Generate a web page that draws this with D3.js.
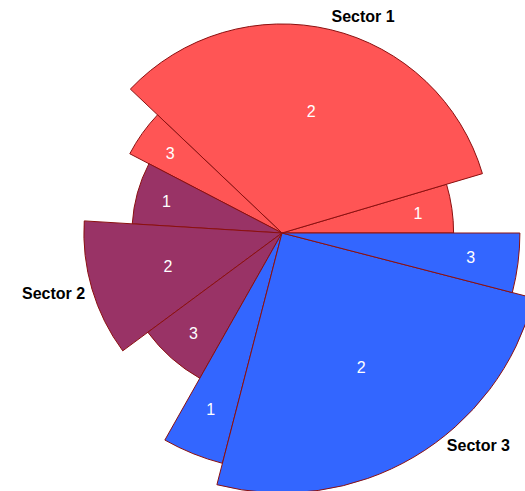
<!DOCTYPE html>
<html>
<head>
<meta charset="utf-8">
<script src="https://cdn.jsdelivr.net/npm/d3@7"></script>
<style>
  html, body { margin: 0; padding: 0; background: #fff; }
  svg { display: block; }
</style>
</head>
<body>
<svg id="chart" width="525" height="491"></svg>
<script>
// ---- data ----
const sectors = ["Sector 1", "Sector 2", "Sector 3"];
const sliceLabels = ["1", "2", "3"];
// angular share of each slice (per sector, in order)
const sector1Values = [16.5, 120, 16];
const sector2Values = [24, 40, 24];
const sector3Values = [15, 90, 14.5];
// radial value of each slice
const sector1Radii = [66, 80.4, 66];
const sector2Radii = [57.7, 76.2, 64.2];
const sector3Radii = [91.5, 100, 91.5];
const sectorColors = ["#ff5555", "#993366", "#3366ff"];

// ---- layout ----
const W = 525, H = 491;
const cx = 282, cy = 233;
const maxR = 260;
const svg = d3.select("#chart");
const g = svg.append("g").attr("transform", `translate(${cx},${cy})`);

const valuesBySector = [sector1Values, sector2Values, sector3Values];
const radiiBySector = [sector1Radii, sector2Radii, sector3Radii];

const rows = [];
sectors.forEach((s, si) => {
  valuesBySector[si].forEach((v, k) => {
    rows.push({ sector: s, si, label: sliceLabels[k], value: v, radius: radiiBySector[si][k] });
  });
});

const rScale = d3.scaleLinear().domain([0, 100]).range([0, maxR]);

// start at 3 o'clock, go counter-clockwise
const pie = d3.pie()
  .sort(null)
  .value(d => d.value)
  .startAngle(Math.PI / 2)
  .endAngle(Math.PI / 2 - 2 * Math.PI);

const arcs = pie(rows);
const arc = d3.arc()
  .innerRadius(0)
  .outerRadius(d => rScale(d.data.radius));

g.selectAll("path.slice")
  .data(arcs)
  .join("path")
  .attr("class", "slice")
  .attr("d", arc)
  .attr("fill", d => sectorColors[d.data.si])
  .attr("stroke", "#8b1010")
  .attr("stroke-width", 1)
  .attr("stroke-linejoin", "round");

// slice labels
g.selectAll("text.slice-label")
  .data(arcs)
  .join("text")
  .attr("class", "slice-label")
  .attr("transform", d => {
    const a = (d.startAngle + d.endAngle) / 2;
    const span = Math.abs(d.endAngle - d.startAngle) * 180 / Math.PI;
    const frac = span < 30 ? 0.8 : 0.6;
    const r = rScale(d.data.radius) * frac;
    return `translate(${r * Math.sin(a)},${-r * Math.cos(a)})`;
  })
  .attr("text-anchor", "middle")
  .attr("dy", "0.35em")
  .attr("fill", "#ffffff")
  .attr("font-family", "'Liberation Sans', Arial, sans-serif")
  .attr("font-size", 16)
  .text(d => d.data.label);

// sector labels (polar placement: math angle in degrees, radius in px, anchor)
const sectorLabelPos = [
  { deg: 69.5, r: 231.6, anchor: "middle" },
  { deg: 197.1, r: 206, anchor: "end" },
  { deg: 307.8, r: 269, anchor: "start" }
];
g.selectAll("text.sector-label")
  .data(sectors)
  .join("text")
  .attr("class", "sector-label")
  .attr("x", (d, i) => sectorLabelPos[i].r * Math.cos(sectorLabelPos[i].deg * Math.PI / 180))
  .attr("y", (d, i) => -sectorLabelPos[i].r * Math.sin(sectorLabelPos[i].deg * Math.PI / 180))
  .attr("dy", "0.35em")
  .attr("text-anchor", (d, i) => sectorLabelPos[i].anchor)
  .attr("font-family", "'Liberation Sans', Arial, sans-serif")
  .attr("font-weight", "bold")
  .attr("font-size", 16)
  .attr("fill", "#000")
  .text(d => d);
</script>
</body>
</html>
